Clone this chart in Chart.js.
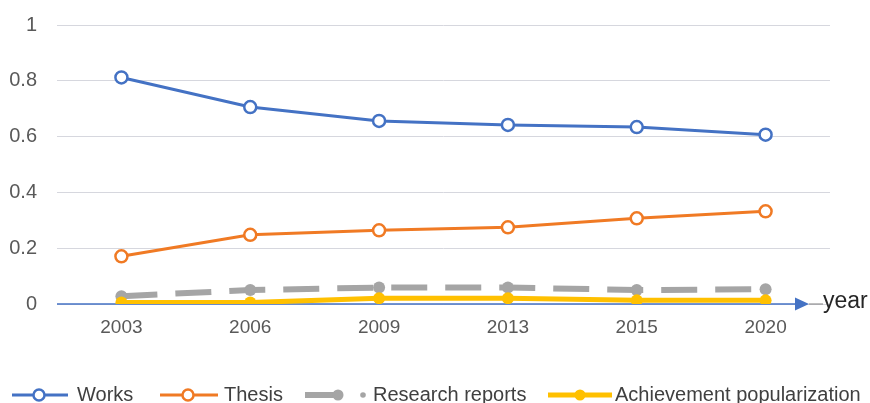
<!DOCTYPE html>
<html>
<head>
<meta charset="utf-8">
<script src="https://cdn.jsdelivr.net/npm/chart.js@4/dist/chart.umd.min.js"></script>
<style>
  html, body { margin: 0; padding: 0; background: #ffffff; }
  #wrap { width: 870px; height: 403px; }
</style>
</head>
<body>
<div id="wrap"><canvas id="c" width="870" height="403"></canvas></div>
<script>
const categories = ['2003', '2006', '2009', '2013', '2015', '2020'];
const worksValues = [0.812, 0.706, 0.656, 0.642, 0.634, 0.607];
const thesisValues = [0.171, 0.248, 0.264, 0.275, 0.307, 0.332];
const researchValues = [0.028, 0.05, 0.059, 0.059, 0.05, 0.053];
const achievementValues = [0.005, 0.005, 0.021, 0.021, 0.013, 0.013];
const seriesNames = ['Works', 'Thesis', 'Research reports', 'Achievement popularization'];
const yTickValues = [0, 0.2, 0.4, 0.6, 0.8, 1];
const xAxisTitle = 'year';

const FONT = "'Liberation Sans', Arial, sans-serif";
const BLUE = '#4472C4', ORANGE = '#F07A24', GRAY = '#A5A5A5', YELLOW = '#FFC000';

const axisArrowPlugin = {
  id: 'axisArrow',
  beforeDatasetsDraw(chart) {
    const ctx = chart.ctx, ca = chart.chartArea;
    const y = chart.scales.y.getPixelForValue(0);
    const tip = ca.right - 21;
    ctx.save();
    ctx.strokeStyle = BLUE; ctx.lineWidth = 1.6;
    ctx.beginPath(); ctx.moveTo(ca.left, y); ctx.lineTo(tip - 12, y); ctx.stroke();
    ctx.fillStyle = BLUE;
    ctx.beginPath(); ctx.moveTo(tip - 14, y - 6.5); ctx.lineTo(tip, y); ctx.lineTo(tip - 14, y + 6.5); ctx.closePath(); ctx.fill();
    ctx.strokeStyle = '#7f7f7f'; ctx.lineWidth = 1;
    ctx.beginPath(); ctx.moveTo(tip, y); ctx.lineTo(tip + 14, y); ctx.stroke();
    ctx.fillStyle = '#262626';
    ctx.font = '23px ' + FONT;
    ctx.textBaseline = 'middle'; ctx.textAlign = 'left';
    ctx.fillText(xAxisTitle, tip + 14, y - 2);
    ctx.restore();
  }
};

const legendPlugin = {
  id: 'customLegend',
  afterDraw(chart) {
    const ctx = chart.ctx;
    const ly = 395;
    const items = [
      { x0: 12, x1: 68, mx: 39, tx: 77 },
      { x0: 160, x1: 218, mx: 188, tx: 224 },
      { x0: 305, x1: 342, mx: 338, tx: 373, dot: 363 },
      { x0: 548, x1: 612, mx: 580, tx: 615 }
    ];
    chart.data.datasets.forEach((ds, i) => {
      const it = items[i];
      ctx.save();
      ctx.strokeStyle = ds.borderColor;
      ctx.lineWidth = ds.borderWidth;
      ctx.lineCap = 'butt';
      ctx.beginPath(); ctx.moveTo(it.x0, ly); ctx.lineTo(it.x1, ly); ctx.stroke();
      ctx.beginPath(); ctx.arc(it.mx, ly, ds.pointRadius - 0.5, 0, Math.PI * 2);
      ctx.fillStyle = ds.pointBackgroundColor; ctx.fill();
      if (ds.pointBorderWidth > 0) {
        ctx.lineWidth = ds.pointBorderWidth; ctx.strokeStyle = ds.pointBorderColor; ctx.stroke();
      }
      if (it.dot) {
        ctx.beginPath(); ctx.arc(it.dot, ly, 2.8, 0, Math.PI * 2);
        ctx.fillStyle = ds.borderColor; ctx.fill();
      }
      ctx.fillStyle = '#404040';
      ctx.font = '20px ' + FONT;
      ctx.textBaseline = 'middle'; ctx.textAlign = 'left';
      ctx.fillText(ds.label, it.tx, ly);
      ctx.restore();
    });
  }
};

new Chart(document.getElementById('c'), {
  type: 'line',
  data: {
    labels: categories,
    datasets: [
      { label: seriesNames[0], data: worksValues, borderColor: BLUE, borderWidth: 3,
        pointRadius: 6, pointBackgroundColor: '#ffffff', pointBorderColor: BLUE, pointBorderWidth: 2.5, order: 0 },
      { label: seriesNames[1], data: thesisValues, borderColor: ORANGE, borderWidth: 3,
        pointRadius: 6, pointBackgroundColor: '#ffffff', pointBorderColor: ORANGE, pointBorderWidth: 2.5, order: 0 },
      { label: seriesNames[2], data: researchValues, borderColor: GRAY, borderWidth: 6, borderDash: [36, 18],
        pointRadius: 6, pointBackgroundColor: GRAY, pointBorderColor: GRAY, pointBorderWidth: 0, order: 2 },
      { label: seriesNames[3], data: achievementValues, borderColor: YELLOW, borderWidth: 5,
        pointRadius: 6, pointBackgroundColor: YELLOW, pointBorderColor: YELLOW, pointBorderWidth: 0, order: 1 }
    ]
  },
  options: {
    responsive: false,
    animation: false,
    devicePixelRatio: 1,
    layout: { padding: { top: 25, right: 40, bottom: 59, left: 0 } },
    plugins: { legend: { display: false }, tooltip: { enabled: false } },
    elements: { line: { tension: 0, fill: false } },
    scales: {
      x: {
        offset: true,
        grid: { display: false, drawTicks: false },
        border: { display: false },
        ticks: { color: '#595959', font: { family: FONT, size: 19 }, padding: 12, maxRotation: 0 },
        afterFit(s) { s.height = 40; }
      },
      y: {
        min: 0, max: 1,
        afterBuildTicks(s) { s.ticks = yTickValues.map(v => ({ value: v })); },
        grid: { color: '#d6d7de', lineWidth: 1, drawTicks: true, tickLength: 17, tickColor: 'rgba(0,0,0,0)' },
        border: { display: false },
        ticks: { color: '#595959', font: { family: FONT, size: 20 }, padding: 3, callback: v => String(v) },
        afterFit(s) { s.width = 57; }
      }
    }
  },
  plugins: [axisArrowPlugin, legendPlugin]
});
</script>
</body>
</html>
